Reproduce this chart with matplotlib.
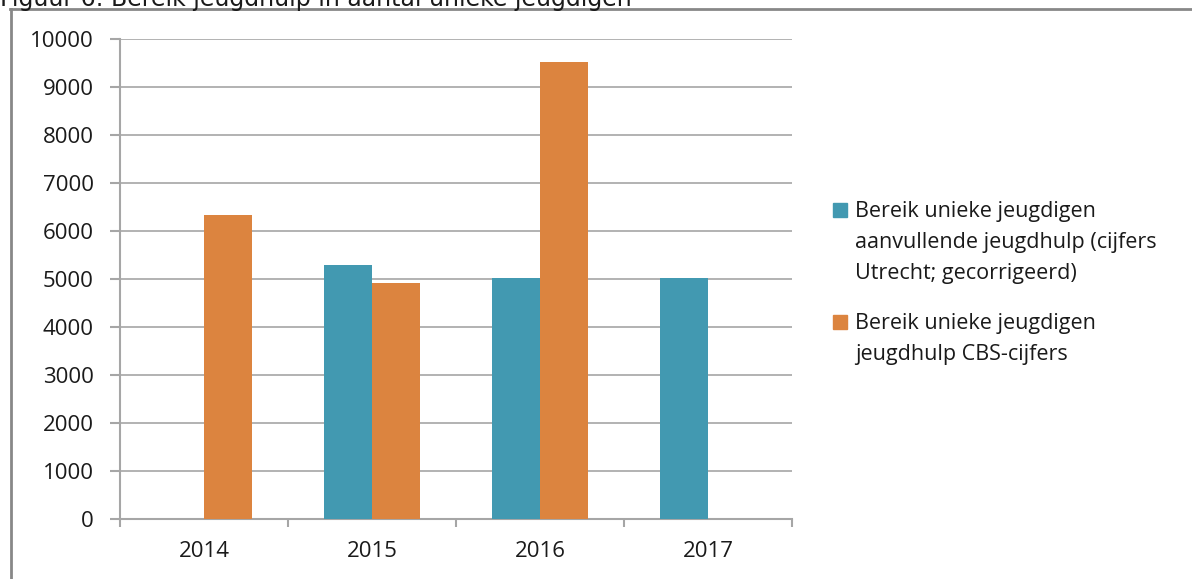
import numpy as np
import matplotlib
matplotlib.use('Agg')
import matplotlib.pyplot as plt
from matplotlib.patches import Rectangle
from matplotlib.lines import Line2D

plt.rcParams['font.family'] = ['Open Sans', 'DejaVu Sans']

# Data
years = ['2014', '2015', '2016', '2017']
utrecht = [np.nan, 5290, 5020, 5020]
cbs = [6330, 4920, 9520, np.nan]
labels = ['Bereik unieke jeugdigen\naanvullende jeugdhulp (cijfers\nUtrecht; gecorrigeerd)',
          'Bereik unieke jeugdigen\njeugdhulp CBS-cijfers']
title = 'Figuur 6: Bereik jeugdhulp in aantal unieke jeugdigen'

teal = '#4299B1'
orange = '#DC843F'
grey = '#A6A6A6'
txt = '#1a1a1a'

W, H = 1192, 579
fig = plt.figure(figsize=(W / 100, H / 100), dpi=100)
ax = fig.add_axes([120 / W, (H - 519) / H, (792 - 120) / W, (519 - 39) / H])

x = np.arange(len(years))
w = 0.285
ax.bar(x - w / 2, utrecht, w, color=teal, zorder=3)
ax.bar(x + w / 2, cbs, w, color=orange, zorder=3)

ax.set_xlim(-0.5, len(years) - 0.5)
ax.set_ylim(0, 10000)
ax.set_yticks(np.arange(0, 10001, 1000))
ax.set_xticks(x)
ax.set_xticklabels(years)
ax.set_xticks(np.arange(-0.5, len(years), 1), minor=True)
ax.tick_params(axis='x', which='major', length=0, pad=16, labelsize=16, labelcolor=txt)
ax.tick_params(axis='x', which='minor', length=6, width=1.5, color=grey)
ax.tick_params(axis='y', length=7, width=1.5, color=grey, labelsize=16, pad=12, labelcolor=txt)

ax.grid(axis='y', color=grey, linewidth=1.2, zorder=0)
for s in ['top', 'right']:
    ax.spines[s].set_visible(False)
for s in ['left', 'bottom']:
    ax.spines[s].set_color(grey)
    ax.spines[s].set_linewidth(1.5)

# legend drawn by hand: square aligned with the first text line
colors = [teal, orange]
first_base = [217, 329]
step = 31
for lab, col, b0 in zip(labels, colors, first_base):
    fig.add_artist(Rectangle((833 / W, 1 - b0 / H), 14 / W, 14 / H,
                             transform=fig.transFigure, color=col))
    for i, line in enumerate(lab.split('\n')):
        fig.text(855 / W, 1 - (b0 + i * step) / H, line, fontsize=15.5,
                 va='baseline', ha='left', color=txt)

# outer frame (left and top edges of the figure box)
fig.add_artist(Line2D([11 / W, 11 / W], [0, 1 - 9 / H], color='#888888', linewidth=2))
fig.add_artist(Line2D([10 / W, 1], [1 - 9 / H, 1 - 9 / H], color='#888888', linewidth=2))

fig.text(0, 1 - 6 / H, title, fontsize=17, family='DejaVu Sans', va='baseline', color=txt)

fig.savefig('out.png', dpi=100)
